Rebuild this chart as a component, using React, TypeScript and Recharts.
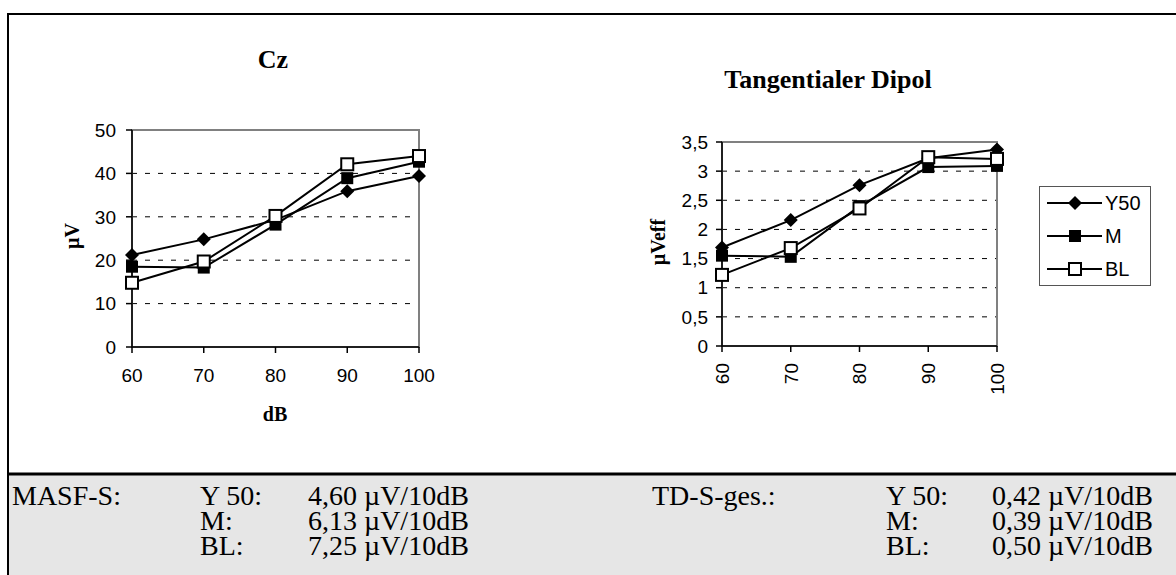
import {
  LineChart,
  Line,
  XAxis,
  YAxis,
  CartesianGrid,
  ReferenceArea,
  Legend,
} from "recharts";

// dB levels and measured amplitudes
const levels = [60, 70, 80, 90, 100];
const czY50 = [21.2, 24.8, 29.3, 35.9, 39.4];
const czM = [18.5, 18.3, 28.2, 38.9, 42.7];
const czBL = [14.8, 19.7, 30.2, 42.1, 44.0];
const tdY50 = [1.69, 2.16, 2.76, 3.22, 3.37];
const tdM = [1.55, 1.53, 2.4, 3.07, 3.09];
const tdBL = [1.22, 1.68, 2.36, 3.24, 3.21];

const czTicks = [0, 10, 20, 30, 40, 50];
const czGrid = [10, 20, 30, 40];
const tdTicks = [0, 0.5, 1, 1.5, 2, 2.5, 3, 3.5];
const tdGrid = [0.5, 1, 1.5, 2, 2.5, 3];
const seriesNames = ["Y50", "M", "BL"];

// slope summary below the charts
const masfRows = [
  ["Y 50:", "4,60 µV/10dB"],
  ["M:", "6,13 µV/10dB"],
  ["BL:", "7,25 µV/10dB"],
];
const tdRows = [
  ["Y 50:", "0,42 µV/10dB"],
  ["M:", "0,39 µV/10dB"],
  ["BL:", "0,50 µV/10dB"],
];

const czData = levels.map((db, i) => ({ db, y50: czY50[i], m: czM[i], bl: czBL[i] }));
const tdData = levels.map((db, i) => ({ db, y50: tdY50[i], m: tdM[i], bl: tdBL[i] }));

const sans = '"Liberation Sans", Arial, sans-serif';
const serif = '"Liberation Serif", "Times New Roman", serif';

const Diamond = (p: any) => (
  <polygon
    key={p.key}
    points={`${p.cx},${p.cy - 7} ${p.cx + 7},${p.cy} ${p.cx},${p.cy + 7} ${p.cx - 7},${p.cy}`}
    fill="#000"
  />
);
const FilledSquare = (p: any) => (
  <rect key={p.key} x={p.cx - 6} y={p.cy - 6} width={12} height={12} fill="#000" />
);
const OpenSquare = (p: any) => (
  <rect
    key={p.key}
    x={p.cx - 6}
    y={p.cy - 6}
    width={12}
    height={12}
    fill="#fff"
    stroke="#000"
    strokeWidth={2}
  />
);
const markers: Record<string, (p: any) => React.ReactElement> = {
  Y50: Diamond,
  M: FilledSquare,
  BL: OpenSquare,
};

const fmt = (v: number) => String(v).replace(".", ",");

const tickStyle = { fill: "#000", fontSize: 19, fontFamily: sans };

const RotTick = (p: any) => (
  <text
    x={p.x}
    y={p.y}
    transform={`rotate(-90 ${p.x} ${p.y})`}
    textAnchor="end"
    dy="0.36em"
    fill="#000"
    fontSize={19}
    fontFamily={sans}
  >
    {p.payload.value}
  </text>
);

function LegendBox(props: any) {
  const items = [...(props.payload || [])].sort(
    (a: any, b: any) => seriesNames.indexOf(a.value) - seriesNames.indexOf(b.value)
  );
  return (
    <div style={styles.legend}>
      <svg width={110} height={98}>
        {items.map((it: any, i: number) => {
          const cy = 16 + i * 33;
          const M = markers[it.value] || Diamond;
          return (
            <g key={it.value}>
              <line x1={7} x2={62} y1={cy} y2={cy} stroke="#000" strokeWidth={2} />
              {M({ cx: 35, cy, key: "m" + i })}
              <text x={65} y={cy} dy="0.36em" fontSize={20} fontFamily={sans} fill="#000">
                {it.value}
              </text>
            </g>
          );
        })}
      </svg>
    </div>
  );
}

function series() {
  return [
    <Line key="y50" dataKey="y50" name={seriesNames[0]} stroke="#000" strokeWidth={2} dot={Diamond} activeDot={false} isAnimationActive={false} />,
    <Line key="m" dataKey="m" name={seriesNames[1]} stroke="#000" strokeWidth={2} dot={FilledSquare} activeDot={false} isAnimationActive={false} />,
    <Line key="bl" dataKey="bl" name={seriesNames[2]} stroke="#000" strokeWidth={2} dot={OpenSquare} activeDot={false} isAnimationActive={false} />,
  ];
}

export default function App() {
  return (
    <div style={styles.page}>
      <svg width={1176} height={575} style={{ position: "absolute", left: 0, top: 0 }}>
        <rect x={8} y={474} width={1168} height={101} fill="#e6e6e6" />
        <line x1={7} x2={1176} y1={14} y2={14} stroke="#000" strokeWidth={2} />
        <line x1={8} x2={8} y1={13} y2={575} stroke="#000" strokeWidth={2} />
        <line x1={8} x2={1176} y1={474} y2={474} stroke="#000" strokeWidth={3} />

        <g fontFamily={serif} fontWeight="bold" fill="#000" textAnchor="middle">
          <text x={273} y={68} fontSize={26}>Cz</text>
          <text x={828} y={88} fontSize={26}>Tangentialer Dipol</text>
          <text x={275} y={421} fontSize={20}>dB</text>
          <text x={72} y={236} dy="0.35em" fontSize={20} transform="rotate(-90 72 236)">µV</text>
          <text x={658} y={242} dy="0.35em" fontSize={20} transform="rotate(-90 658 242)">µVeff</text>
        </g>

        <g fontFamily={serif} fontSize={28} fill="#000">
          <text x={12} y={505}>MASF-S:</text>
          <text x={652} y={505}>TD-S-ges.:</text>
          {masfRows.map((r, i) => (
            <g key={"l" + i}>
              <text x={200} y={505 + i * 25}>{r[0]}</text>
              <text x={308} y={505 + i * 25}>{r[1]}</text>
            </g>
          ))}
          {tdRows.map((r, i) => (
            <g key={"r" + i}>
              <text x={886} y={505 + i * 25}>{r[0]}</text>
              <text x={992} y={505 + i * 25}>{r[1]}</text>
            </g>
          ))}
        </g>
      </svg>

      <div style={{ position: "absolute", left: 0, top: 0 }}>
        <LineChart width={460} height={440} data={czData} margin={{ top: 130, right: 41, bottom: 63, left: 72 }}>
          <ReferenceArea x1={60} x2={100} y1={0} y2={50} fill="none" stroke="#808080" strokeWidth={2} />
          <CartesianGrid vertical={false} horizontalValues={czGrid} stroke="#000" strokeDasharray="5 8" />
          <XAxis
            dataKey="db"
            height={30}
            tickSize={6}
            tickMargin={16}
            tick={tickStyle}
            axisLine={{ stroke: "#000", strokeWidth: 1.5 }}
            tickLine={{ stroke: "#000", strokeWidth: 1.5 }}
          />
          <YAxis
            domain={[0, 50]}
            ticks={czTicks}
            interval={0}
            width={60}
            tickSize={6}
            tickMargin={10}
            tick={tickStyle}
            axisLine={{ stroke: "#000", strokeWidth: 1.5 }}
            tickLine={{ stroke: "#000", strokeWidth: 1.5 }}
          />
          {series()}
        </LineChart>
      </div>

      <div style={{ position: "absolute", left: 620, top: 0 }}>
        <LineChart width={556} height={440} data={tdData} margin={{ top: 142, right: 179, bottom: 34, left: 42 }}>
          <ReferenceArea x1={60} x2={100} y1={0} y2={3.5} fill="none" stroke="#808080" strokeWidth={2} />
          <CartesianGrid vertical={false} horizontalValues={tdGrid} stroke="#000" strokeDasharray="5 8" />
          <XAxis
            dataKey="db"
            height={60}
            tickSize={6}
            tickMargin={11}
            tick={RotTick}
            axisLine={{ stroke: "#000", strokeWidth: 1.5 }}
            tickLine={{ stroke: "#000", strokeWidth: 1.5 }}
          />
          <YAxis
            domain={[0, 3.5]}
            ticks={tdTicks}
            interval={0}
            width={60}
            tickSize={6}
            tickMargin={8}
            tick={tickStyle}
            tickFormatter={fmt}
            axisLine={{ stroke: "#000", strokeWidth: 1.5 }}
            tickLine={{ stroke: "#000", strokeWidth: 1.5 }}
          />
          <Legend
            layout="vertical"
            align="center"
            verticalAlign="middle"
            content={LegendBox}
            wrapperStyle={{ left: 419, top: 186, width: 112, height: 100 }}
          />
          {series()}
        </LineChart>
      </div>
    </div>
  );
}

const styles: Record<string, React.CSSProperties> = {
  page: {
    position: "absolute",
    left: 0,
    top: 0,
    width: 1176,
    height: 575,
    overflow: "hidden",
    background: "#fff",
  },
  legend: {
    width: 112,
    height: 100,
    boxSizing: "border-box",
    border: "1.5px solid #555",
    background: "#fff",
  },
};
